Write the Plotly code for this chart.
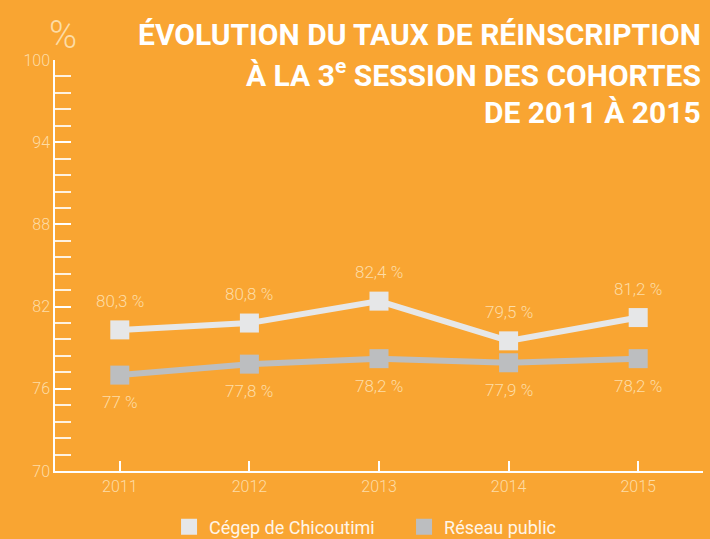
import plotly.graph_objects as go

years = [2011, 2012, 2013, 2014, 2015]
cegep = [80.3, 80.8, 82.4, 79.5, 81.2]
reseau = [77.0, 77.8, 78.2, 77.9, 78.2]
cegep_labels = ["80,3 %", "80,8 %", "82,4 %", "79,5 %", "81,2 %"]
reseau_labels = ["77 %", "77,8 %", "78,2 %", "77,9 %", "78,2 %"]
y_ticks = [70, 76, 82, 88, 94, 100]
series_names = ["Cégep de Chicoutimi", "Réseau public"]

BG = "#F9A532"
PALE = "#FDDCA5"
C1 = "#E6E7E8"
C2 = "#BCBEC0"
LIGHT = "Roboto"
TITLEF = "Roboto"

fig = go.Figure()
fig.add_trace(go.Scatter(x=years, y=cegep, mode="lines+markers", showlegend=False,
                         line=dict(color=C1, width=6),
                         marker=dict(symbol="square", size=19, color=C1)))
fig.add_trace(go.Scatter(x=years, y=reseau, mode="lines+markers", showlegend=False,
                         line=dict(color=C2, width=6),
                         marker=dict(symbol="square", size=19, color=C2)))
for name, col in zip(series_names, [C1, C2]):
    fig.add_trace(go.Scatter(x=[None], y=[None], mode="markers", name=name,
                             marker=dict(symbol="square", size=18, color=col)))

for x, y, t in zip(years, cegep, cegep_labels):
    fig.add_annotation(x=x, y=y, text=t, showarrow=False, yshift=29,
                       font=dict(family=LIGHT, size=17, color=PALE, weight=300))
for x, y, t in zip(years, reseau, reseau_labels):
    fig.add_annotation(x=x, y=y, text=t, showarrow=False, yshift=-27,
                       font=dict(family=LIGHT, size=17, color=PALE, weight=300))

fig.add_annotation(xref="paper", yref="paper", x=0.0, y=1.0, xanchor="center", yanchor="bottom",
                   xshift=8, yshift=1, text="%", showarrow=False,
                   font=dict(family=LIGHT, size=38, color=PALE, weight=300))

title_lines = ["ÉVOLUTION DU TAUX DE RÉINSCRIPTION",
               "À LA 3<sup>e</sup> SESSION DES COHORTES",
               "DE 2011 À 2015"]
for i, line in enumerate(title_lines):
    fig.add_annotation(xref="paper", yref="paper", x=1.0, y=1.0, xanchor="right", yanchor="middle",
                       xshift=0, yshift=60 - 34 - i * 39, text=line, showarrow=False,
                       font=dict(family=TITLEF, size=30, color="white", weight=700))

fig.update_xaxes(range=[2010.5, 2015.5], tickvals=years, ticktext=[str(y) for y in years],
                 showline=True, linecolor="white", linewidth=1.5, showgrid=False, zeroline=False,
                 ticks="inside", ticklen=10, tickcolor="white", tickwidth=1.5,
                 tickfont=dict(family=LIGHT, size=16, color=PALE, weight=300))
fig.update_yaxes(range=[70, 100], tickvals=y_ticks,
                 showline=True, linecolor="white", linewidth=1.5, showgrid=False, zeroline=False,
                 ticks="inside", ticklen=16, tickcolor="white", tickwidth=1.5,
                 tickfont=dict(family=LIGHT, size=16, color=PALE, weight=300),
                 minor=dict(dtick=1.2, tick0=70, ticks="inside", ticklen=16,
                            tickcolor="rgba(255,255,255,0.85)", tickwidth=1.5))

fig.update_layout(width=710, height=539, paper_bgcolor=BG, plot_bgcolor=BG,
                  margin=dict(l=55, r=7, t=60, b=68, autoexpand=False),
                  legend=dict(orientation="h", x=0.176, xanchor="left", y=-0.1363, yanchor="middle",
                              entrywidth=190, entrywidthmode="pixels",
                              font=dict(family=LIGHT, size=18, color="#FFF5E8"),
                              bgcolor="rgba(0,0,0,0)"),
                  font=dict(family=LIGHT))
fig.write_html("out.html", config={"displayModeBar": False})

with open("out.html", "r", encoding="utf-8") as f:
    html = f.read()
html = html.replace("<head>", "<head><style>html,body{margin:0;padding:0;overflow:hidden;background:%s}</style>" % BG, 1)
with open("out.html", "w", encoding="utf-8") as f:
    f.write(html)
